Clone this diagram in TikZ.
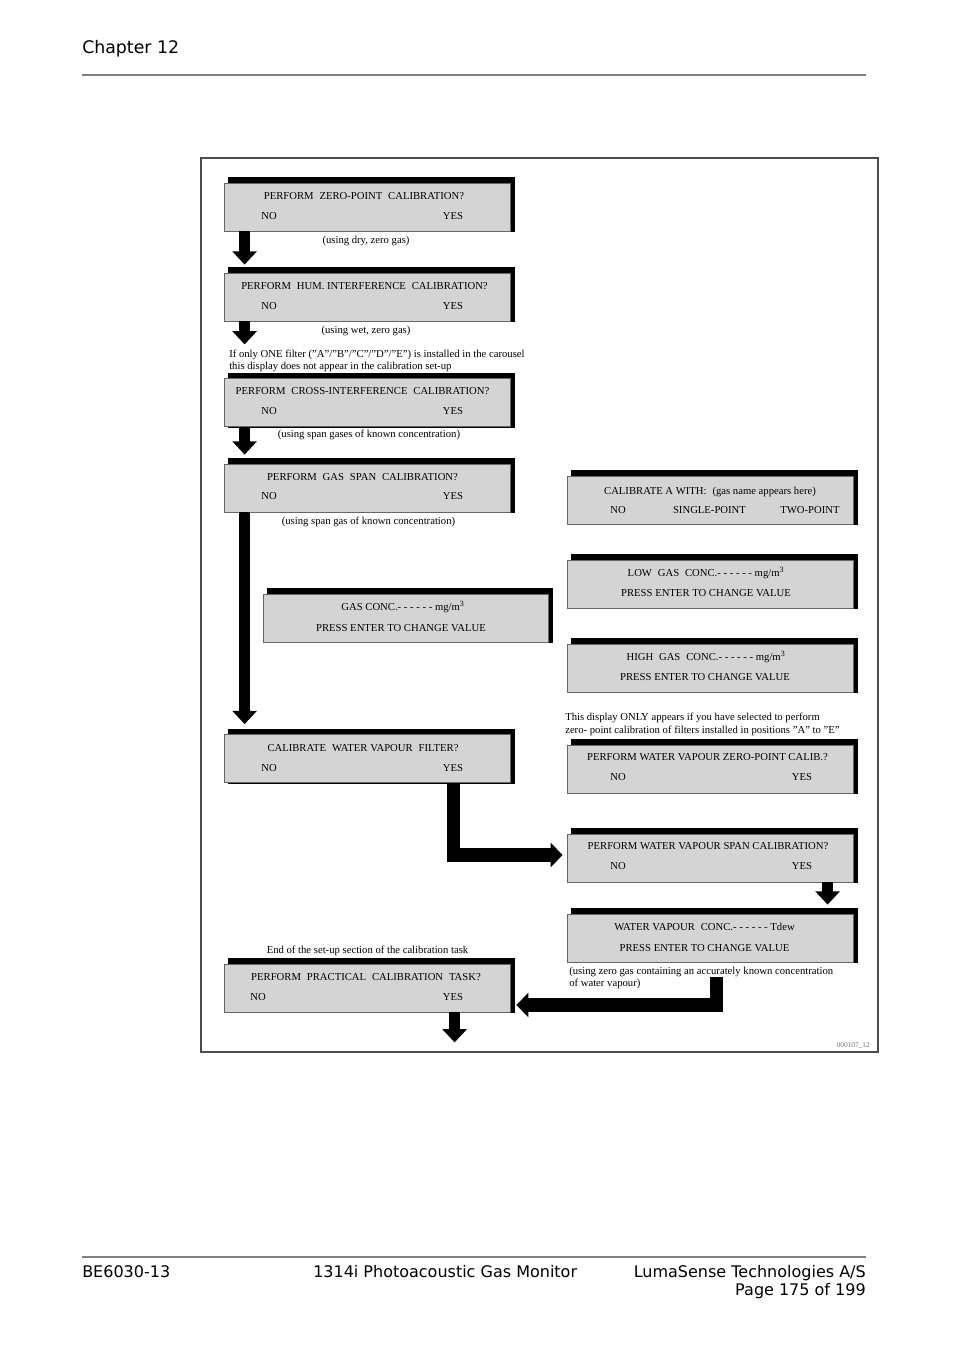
\documentclass[tikz,border=0pt]{standalone}
\usepackage{fontspec}
\setmainfont{Liberation Serif}
\newfontfamily\hdrfont{DejaVu Sans}
\usetikzlibrary{arrows.meta,calc}
\newcommand\dsp{\hspace{0.55em}}
\newcommand\dispbox[4]{% name, x, y, width
  \fill[black] ({#2-#4/2+4},{#3-30}) rectangle ({#2+#4/2+5},{#3+25});
  \node[disp, minimum width=#4*0.75pt] (#1) at (#2,#3) {};
}
\tikzset{
  disp/.style={draw=black!60, line width=0.6pt, fill=black!17, minimum height=36pt, inner sep=0pt},
  lbl/.style={font=\fontsize{8.0}{9.6}\selectfont, text=black, inner sep=0pt, anchor=base},
  lbll/.style={lbl, anchor=base west},
  hdr/.style={font=\hdrfont\fontsize{12}{14}\selectfont, inner sep=0pt, text=black},
  bigarrow/.style={black, line width=8.5pt, -{Triangle[width=18pt,length=10pt]}},
  larrow/.style={black, line width=10pt, -{Triangle[width=18pt,length=9pt]}}
}
\begin{document}
\begin{tikzpicture}[x=0.75pt,y=-0.75pt]
\useasboundingbox (0,0) rectangle (954,1350);
\fill[white] (0,0) rectangle (954,1350);

% header / footer
\node[hdr, font=\hdrfont\fontsize{13}{15}\selectfont, anchor=base west] (chap) at (82,53) {Chapter 12};
\draw[black!50, line width=1.2pt] (82,75) -- (866,75);
\draw[black!50, line width=1.2pt] (82,1257) -- (866,1257);
\node[hdr, anchor=base west] (f1) at (82,1277) {BE6030-13};
\node[hdr, anchor=base west] (f2) at (313,1277) {1314i Photoacoustic Gas Monitor};
\node[hdr, anchor=base east] (f3) at (866,1277) {LumaSense Technologies A/S};
\node[hdr, anchor=base east] (f4) at (866,1295) {Page 175 of 199};

% frame
\draw[black!70, line width=1.2pt] (201,158) rectangle (878,1052);

% boxes
\dispbox{b1}{367}{207}{286}
\dispbox{b2}{367}{297}{286}
\dispbox{b3}{367}{402.5}{286}
\dispbox{b4}{367}{488}{286}
\dispbox{gc}{405.5}{618}{285}
\dispbox{b5}{367}{758.5}{286}
\dispbox{b6}{367}{988}{286}
\dispbox{r1}{710}{500}{286}
\dispbox{r2}{710}{584}{286}
\dispbox{r3}{710}{668}{286}
\dispbox{r4}{710}{769}{286}
\dispbox{r5}{710}{858}{286}
\dispbox{r6}{710}{938}{286}

% box texts
\node[lbl] (b1t) at (364,199.5) {PERFORM\dsp ZERO-POINT\dsp CALIBRATION?};
\node[lbl] (b1n) at (269,219.5) {NO};
\node[lbl] (b1y) at (453,219.5) {YES};

\node[lbl] (b2t) at (364.5,289.5) {PERFORM\dsp HUM. INTERFERENCE\dsp CALIBRATION?};
\node[lbl] (b2n) at (269,309.5) {NO};
\node[lbl] (b2y) at (453,309.5) {YES};

\node[lbl] (b3t) at (362.5,394.5) {PERFORM\dsp CROSS-INTERFERENCE\dsp CALIBRATION?};
\node[lbl] (b3n) at (269,414.5) {NO};
\node[lbl] (b3y) at (453,414.5) {YES};

\node[lbl] (b4t) at (362.5,480.5) {PERFORM\dsp GAS\dsp SPAN\dsp CALIBRATION?};
\node[lbl] (b4n) at (269,499.5) {NO};
\node[lbl] (b4y) at (453,499.5) {YES};

\node[lbl] (gct) at (403,610.5) {GAS CONC.- - - - - - mg/m\textsuperscript{3}};
\node[lbl] (gcp) at (401,631.5) {PRESS ENTER TO CHANGE VALUE};

\node[lbl] (b5t) at (363,751.5) {CALIBRATE\dsp WATER VAPOUR\dsp FILTER?};
\node[lbl] (b5n) at (269,771.5) {NO};
\node[lbl] (b5y) at (453,771.5) {YES};

\node[lbl] (b6t) at (366,980.5) {PERFORM\dsp PRACTICAL\dsp CALIBRATION\dsp TASK?};
\node[lbl] (b6n) at (258,1000.5) {NO};
\node[lbl] (b6y) at (453,1000.5) {YES};

\node[lbl] (r1t) at (710,494.5) {CALIBRATE A WITH:\dsp (gas name appears here)};
\node[lbl] (r1n) at (618,513.5) {NO};
\node[lbl] (r1s) at (709.5,513.5) {SINGLE-POINT};
\node[lbl] (r1w) at (810,513.5) {TWO-POINT};

\node[lbl] (r2t) at (706,576.5) {LOW\dsp GAS\dsp CONC.- - - - - - mg/m\textsuperscript{3}};
\node[lbl] (r2p) at (706,596.5) {PRESS ENTER TO CHANGE VALUE};

\node[lbl] (r3t) at (706,660.5) {HIGH\dsp GAS\dsp CONC.- - - - - - mg/m\textsuperscript{3}};
\node[lbl] (r3p) at (705,680.5) {PRESS ENTER TO CHANGE VALUE};

\node[lbl] (r4t) at (707.5,760.5) {PERFORM WATER VAPOUR ZERO-POINT CALIB.?};
\node[lbl] (r4n) at (618,780.5) {NO};
\node[lbl] (r4y) at (802,780.5) {YES};

\node[lbl] (r5t) at (708,849.5) {PERFORM WATER VAPOUR SPAN CALIBRATION?};
\node[lbl] (r5n) at (618,869.5) {NO};
\node[lbl] (r5y) at (802,869.5) {YES};

\node[lbl] (r6t) at (704.5,930.5) {WATER VAPOUR\dsp CONC.- - - - - - Tdew};
\node[lbl] (r6p) at (704.5,951.5) {PRESS ENTER TO CHANGE VALUE};

% notes
\node[lbl] (n1) at (366,243.5) {(using dry, zero gas)};
\node[lbl] (n2) at (366,333.5) {(using wet, zero gas)};
\node[lbll] (n3a) at (229,357.5) {If only ONE filter ("A"/"B"/"C"/"D"/"E") is installed in the carousel};
\node[lbll] (n3b) at (229,369.5) {this display does not appear in the calibration set-up};
\node[lbl] (n4) at (369,437.5) {(using span gases of known concentration)};
\node[lbl] (n5) at (368.5,524.5) {(using span gas of known concentration)};
\node[lbll] (n6a) at (565,720.5) {This display ONLY appears if you have selected to perform};
\node[lbll] (n6b) at (565,733.5) {zero- point calibration of filters installed in positions "A" to "E"};
\node[lbl] (n7) at (367.5,953.5) {End of the set-up section of the calibration task};
\node[lbll] (n8a) at (569,974.5) {(using zero gas containing an accurately known concentration};
\node[lbll] (n8b) at (569,986.5) {of water vapour)};
\node[lbl, anchor=base east, font=\fontsize{5.5}{6}\selectfont, text=black!55] (fig) at (870,1047) {000107\_12};

% arrows
\draw[bigarrow] ($(b1.south west)+(21,0)$) -- ($(b2.north west)+(21,-8)$);
\coordinate (a2end) at ($(b2.south west)+(21,23)$);
\draw[bigarrow] ($(b2.south west)+(21,0)$) -- (a2end);
\draw[bigarrow] ($(b3.south west)+(21,0)$) -- ($(b4.north west)+(21,-9)$);
\draw[bigarrow] ($(b4.south west)+(21,0)$) -- ($(b5.north west)+(21,-10)$);
\draw[larrow] ($(b5.south west)+(230,0)$) |- ($(r5.west)+(-4,-3)$);
\draw[bigarrow] ($(r5.south west)+(261,0)$) -- ($(r6.north west)+(261,-9)$);
\coordinate (a7start) at ($(r6.south west)+(150,15)$);
\draw[larrow] (a7start) |- ($(b6.east)+(6,17)$);
\coordinate (a8end) at ($(b6.south west)+(231,30)$);
\draw[bigarrow] ($(b6.south west)+(231,0)$) -- (a8end);
\end{tikzpicture}
\end{document}
